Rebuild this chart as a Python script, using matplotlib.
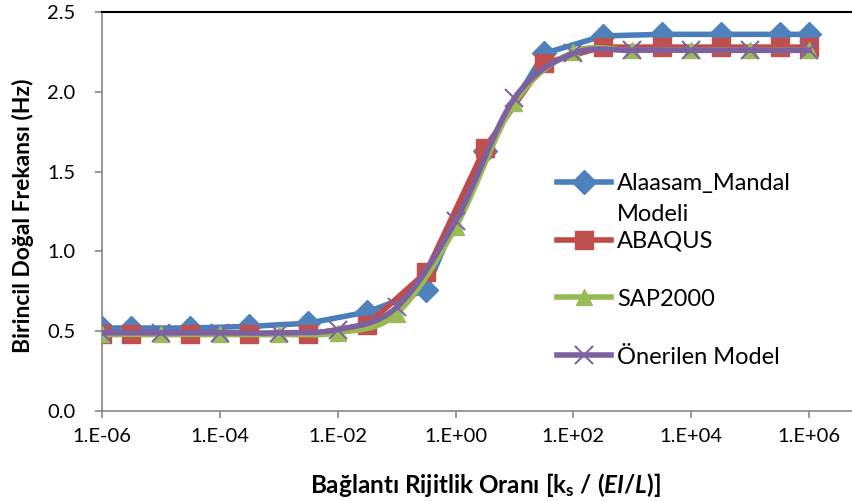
import numpy as np
import matplotlib
matplotlib.use("Agg")
import matplotlib.pyplot as plt
from matplotlib.ticker import FixedLocator, FuncFormatter
from matplotlib.path import Path
from matplotlib.patches import PathPatch
from matplotlib.lines import Line2D

plt.rcParams['font.family'] = ['Lato', 'DejaVu Sans']
plt.rcParams['mathtext.fontset'] = 'custom'
plt.rcParams['mathtext.rm'] = 'Lato:bold'
plt.rcParams['mathtext.it'] = 'Lato:bold:italic'
plt.rcParams['mathtext.bf'] = 'Lato:bold'

# x degerleri: mavi/kirmizi yarim dekadlarda, yesil/mor tam dekadlarda
x_half = [1e-6, 10**-5.5, 10**-4.5, 10**-3.5, 10**-2.5, 10**-1.5, 10**-0.5,
          10**0.5, 10**1.5, 10**2.5, 10**3.5, 10**4.5, 10**5.5, 1e6]
x_dec = [1e-6, 1e-5, 1e-4, 1e-3, 1e-2, 1e-1, 1e0, 1e1, 1e2, 1e3, 1e4, 1e5, 1e6]

alaasam = [0.52, 0.52, 0.52, 0.53, 0.55, 0.62, 0.76, 1.63, 2.24, 2.35, 2.36, 2.36, 2.36, 2.36]
abaqus = [0.48, 0.48, 0.48, 0.48, 0.48, 0.54, 0.87, 1.65, 2.18, 2.28, 2.28, 2.28, 2.28, 2.28]
sap2000 = [0.48, 0.48, 0.48, 0.48, 0.49, 0.61, 1.15, 1.93, 2.25, 2.26, 2.26, 2.26, 2.26]
onerilen = [0.49, 0.49, 0.49, 0.49, 0.51, 0.65, 1.19, 1.96, 2.24, 2.26, 2.26, 2.26, 2.26]

x_ticks = [1e-6, 1e-4, 1e-2, 1e0, 1e2, 1e4, 1e6]
y_ticks = [0.0, 0.5, 1.0, 1.5, 2.0, 2.5]


def smooth_path(xs, ys):
    # Excel "yumusatilmis cizgi" gibi: log-x uzayinda Bezier egrisi
    lx = np.log10(xs); y = np.asarray(ys, float)
    n = len(lx)
    verts = [(lx[0], y[0])]; codes = [Path.MOVETO]
    for i in range(n - 1):
        i0 = max(i - 1, 0); i3 = min(i + 2, n - 1)
        c1 = (lx[i] + (lx[i + 1] - lx[i0]) / 6, y[i] + (y[i + 1] - y[i0]) / 6)
        c2 = (lx[i + 1] - (lx[i3] - lx[i]) / 6, y[i + 1] - (y[i3] - y[i]) / 6)
        verts += [c1, c2, (lx[i + 1], y[i + 1])]
        codes += [Path.CURVE4] * 3
    verts = [(10 ** a, b) for a, b in verts]
    return Path(verts, codes)


W, H = 853, 501
fig = plt.figure(figsize=(W / 100, H / 100), dpi=100)
# eksen sag tarafi resmin disina tasiyor (orijinal kirpilmis)
ax = fig.add_axes([102 / W, (H - 411) / H, (868 - 102) / W, (411 - 12) / H])

styles = [
    ('Alaasam_Mandal', x_half, alaasam, '#4A7EBB', '#4F81BD', 'D', 12, False),
    ('ABAQUS', x_half, abaqus, '#BE4B48', '#C0504D', 's', 13, False),
    ('SAP2000', x_dec, sap2000, '#98B954', '#9BBB59', '^', 12, True),
    ('Önerilen Model', x_dec, onerilen, '#7D60A0', '#8064A2', 'x', 13, True),
]
handles = []
for k, (name, xs, ys, lc, mc, mk, ms, smooth) in enumerate(styles):
    z = 3 + k
    if smooth:
        ax.add_patch(PathPatch(smooth_path(xs, ys), fill=False, edgecolor=lc,
                               lw=4, zorder=z, capstyle='round', joinstyle='round'))
    else:
        ax.plot(xs, ys, color=lc, lw=4, zorder=z, solid_joinstyle='round')
    mew = 1.5 if mk == 'x' else 1
    ax.plot(xs, ys, ls='none', marker=mk, ms=ms, mfc=mc, mec=mc, mew=mew, zorder=z)
    handles.append(Line2D([], [], color=lc, lw=4, marker=mk, ms=ms, mfc=mc, mec=mc,
                          mew=mew, label=name))

ax.set_xscale('log')
ax.set_xlim(1e-6, 1e7)
ax.set_ylim(0, 2.5)
ax.xaxis.set_major_locator(FixedLocator(x_ticks))
ax.xaxis.set_minor_locator(FixedLocator([]))
ax.xaxis.set_major_formatter(FuncFormatter(lambda v, p: "1.E%+03d" % int(round(np.log10(v)))))
ax.set_yticks(y_ticks)
ax.yaxis.set_major_formatter(FuncFormatter(lambda v, p: "%.1f" % v))

for s in ['left', 'bottom']:
    ax.spines[s].set_color('#868686')
    ax.spines[s].set_linewidth(1.2)
ax.spines['right'].set_visible(False)
ax.spines['top'].set_color('black')
ax.spines['top'].set_linewidth(1.5)
ax.tick_params(axis='both', colors='#868686', labelcolor='black', labelsize=14.5,
               length=5, width=1.2, direction='out')
ax.tick_params(axis='x', pad=7)
ax.tick_params(axis='y', pad=14)

ax.set_ylabel('Birincil Doğal Frekansı (Hz)', fontsize=16.5, fontweight='bold')
ax.yaxis.set_label_coords((34 - 102) / (868 - 102), 0.49)
ax.set_xlabel(r'Bağlantı Rijitlik Oranı [k$_\mathrm{s}$ / ($EI$/$L$)]', fontsize=17.5,
              fontweight='bold')
ax.xaxis.set_label_coords((485 - 102) / (868 - 102), -(471 - 411) / (411 - 12))

leg = ax.legend(handles=handles, loc='upper left', bbox_to_anchor=(557 / W, 1 - 173 / H),
                bbox_transform=fig.transFigure, frameon=False, fontsize=17,
                handlelength=2.3, handletextpad=0.25, labelspacing=1.56,
                borderaxespad=0, borderpad=0)

fig.canvas.draw()
bb = leg.get_texts()[0].get_window_extent()
fig.text(bb.x0 / W, (bb.y0 - 31) / H, 'Modeli', fontsize=17, va='bottom', ha='left')

fig.savefig('out.png', dpi=100)
